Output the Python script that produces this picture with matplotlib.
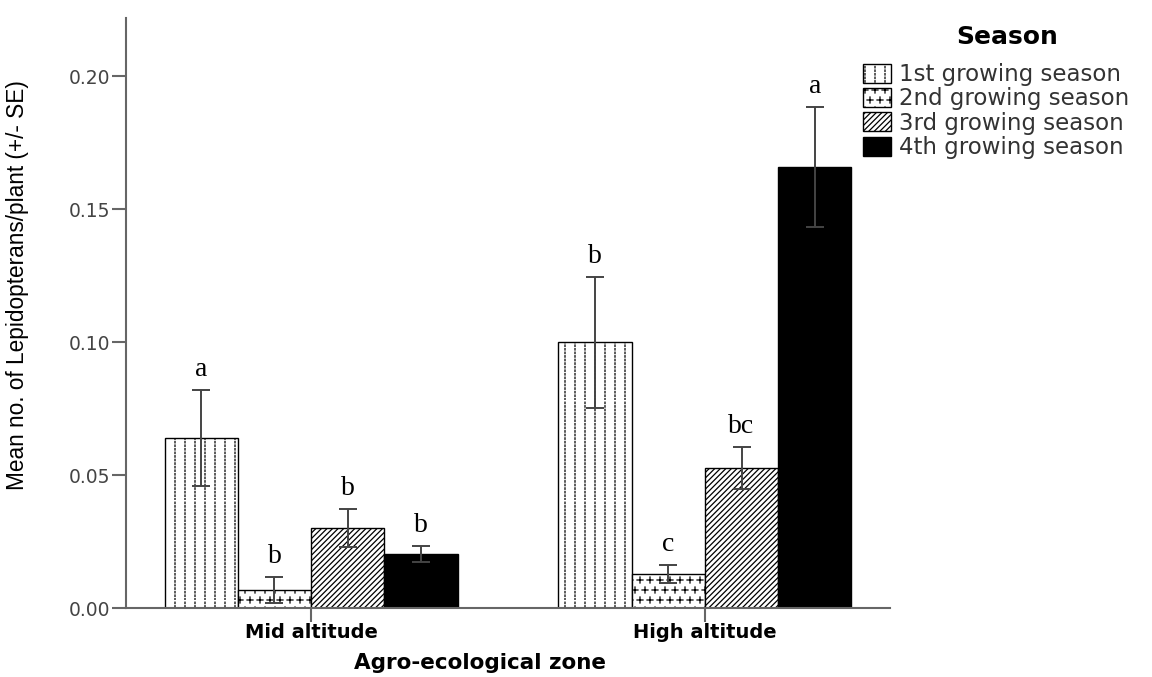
import numpy as np
import matplotlib
matplotlib.use("Agg")
import matplotlib.pyplot as plt
import matplotlib.hatch as mhatch
from matplotlib.path import Path
from matplotlib import font_manager

# ---------------- data ----------------
zones = ["Mid altitude", "High altitude"]
seasons = ["1st growing season", "2nd growing season",
           "3rd growing season", "4th growing season"]
means = {
    "1st growing season": [0.064, 0.100],
    "2nd growing season": [0.0068, 0.0128],
    "3rd growing season": [0.030, 0.0527],
    "4th growing season": [0.0203, 0.166],
}
ses = {
    "1st growing season": [0.018, 0.0247],
    "2nd growing season": [0.005, 0.0034],
    "3rd growing season": [0.0072, 0.0079],
    "4th growing season": [0.0031, 0.0226],
}
letters = {
    "1st growing season": ["a", "b"],
    "2nd growing season": ["b", "c"],
    "3rd growing season": ["b", "bc"],
    "4th growing season": ["b", "a"],
}
yticks = [0.00, 0.05, 0.10, 0.15, 0.20]


# ---------------- custom hatch patterns ----------------
class DottedVertical(mhatch.HatchPatternBase):
    """'.' -> vertical dotted lines."""
    def __init__(self, hatch, density):
        n = hatch.count('.')
        self.num_lines = 10 * n
        self.num_dots = 28
        self.num_vertices = self.num_lines * self.num_dots * 2

    def set_vertices_and_codes(self, vertices, codes):
        xs = np.linspace(0, 1, self.num_lines, endpoint=False) + 0.05
        ys = np.linspace(0, 1, self.num_dots, endpoint=False)
        X, Y = np.meshgrid(xs, ys)
        X = X.ravel()
        Y = Y.ravel()
        d = 0.4 / self.num_dots
        vertices[0::2, 0] = X
        vertices[0::2, 1] = Y
        vertices[1::2, 0] = X
        vertices[1::2, 1] = Y + d
        codes[0::2] = Path.MOVETO
        codes[1::2] = Path.LINETO


class Pluses(mhatch.HatchPatternBase):
    """'*' -> small plus signs in offset rows."""
    def __init__(self, hatch, density):
        n = hatch.count('*')
        self.rows = 10 * n
        if self.rows:
            pts = []
            for i, r in enumerate(np.linspace(0, 1, self.rows + 1)):
                if i % 2 == 0:
                    cols = np.linspace(0, 1, self.rows + 1)
                else:
                    off = 1.0 / self.rows
                    cols = np.linspace(off / 2, 1 - off / 2, self.rows)
                for c in cols:
                    pts.append((c, r))
            self.pts = np.array(pts)
            self.num_vertices = len(self.pts) * 4
        else:
            self.num_vertices = 0

    def set_vertices_and_codes(self, vertices, codes):
        s = 0.5 / self.rows * 0.6
        P = self.pts
        vertices[0::4] = P + [-s, 0]
        vertices[1::4] = P + [s, 0]
        vertices[2::4] = P + [0, -s]
        vertices[3::4] = P + [0, s]
        codes[0::2] = Path.MOVETO
        codes[1::2] = Path.LINETO


new_types = []
for t in mhatch._hatch_types:
    if t.__name__ == "SmallFilledCircles":
        new_types.append(DottedVertical)
    elif t.__name__ == "Stars":
        new_types.append(Pluses)
    else:
        new_types.append(t)
mhatch._hatch_types[:] = new_types

plt.rcParams['hatch.linewidth'] = 0.9

names = {f.name for f in font_manager.fontManager.ttflist}
ylab_font = "Liberation Sans Narrow" if "Liberation Sans Narrow" in names else "Liberation Sans"

styles = {
    "1st growing season": dict(facecolor="white", hatch="."),
    "2nd growing season": dict(facecolor="white", hatch="*"),
    "3rd growing season": dict(facecolor="white", hatch="//////"),
    "4th growing season": dict(facecolor="black", hatch=None),
}

# ---------------- figure ----------------
fig = plt.figure(figsize=(11.52, 6.77), dpi=100)
ax = fig.add_axes([126 / 1152, 69 / 677, 764 / 1152, 590 / 677])

x = np.arange(len(zones))
width = 0.186
handles = []
for i, s in enumerate(seasons):
    pos = x + (i - 1.5) * width
    b = ax.bar(pos, means[s], width, edgecolor="black", linewidth=1.0,
               label=s, zorder=2, **styles[s])
    ax.errorbar(pos, means[s], yerr=ses[s], fmt="none", ecolor="#444444",
                elinewidth=1.4, capsize=6.5, capthick=1.4, zorder=3)
    handles.append(b)
    for xi, m, e, lt in zip(pos, means[s], ses[s], letters[s]):
        ax.annotate(lt, xy=(xi, m + e), xytext=(0, 10),
                    textcoords="offset points", ha="center", va="baseline",
                    fontsize=20, family="Liberation Serif", color="black")

ax.set_xlim(-0.47, 1.47)
ax.set_ylim(0, 0.222)
ax.set_yticks(yticks)
ax.set_yticklabels([f"{v:.2f}" for v in yticks])
ax.set_xticks(x)
ax.set_xticklabels(zones, fontsize=14, fontweight="bold", family="DejaVu Sans")

for sp in ["top", "right"]:
    ax.spines[sp].set_visible(False)
for sp in ["left", "bottom"]:
    ax.spines[sp].set_color("#666666")
    ax.spines[sp].set_linewidth(1.5)

ax.tick_params(axis="y", direction="out", length=10, width=1.5, color="#666666",
               labelsize=13.5, labelcolor="#444444", pad=1)
ax.tick_params(axis="x", direction="out", length=10, width=1.5, color="#666666",
               pad=1)
for lab in ax.get_yticklabels():
    lab.set_family("DejaVu Sans")

ax.set_ylabel("Mean no. of Lepidopterans/plant (+/- SE)", fontsize=16.3,
              family=ylab_font)
ax.yaxis.set_label_coords(-(126 - 29) / 764, (608 - 285) / 590)
ax.set_xlabel("Agro-ecological zone", fontsize=15.5, fontweight="bold",
              family="DejaVu Sans")
ax.xaxis.set_label_coords((480 - 126) / 764, -(653 - 608) / 590)
ax.xaxis.label.set_verticalalignment("top")

leg = fig.legend(handles=handles, labels=seasons, loc="upper left",
                 bbox_to_anchor=(863 / 1152, 1 - 63 / 677),
                 frameon=False,
                 prop={"family": "DejaVu Sans", "size": 16.5},
                 handlelength=1.2, handleheight=0.9, handletextpad=0.35,
                 labelspacing=0.06, borderpad=0, borderaxespad=0)
for t in leg.get_texts():
    t.set_color("#333333")
fig.text(1007 / 1152, 1 - 37 / 677, "Season", ha="center", va="center",
         fontsize=18, fontweight="bold", family="DejaVu Sans")

fig.savefig("out.png", dpi=100)
